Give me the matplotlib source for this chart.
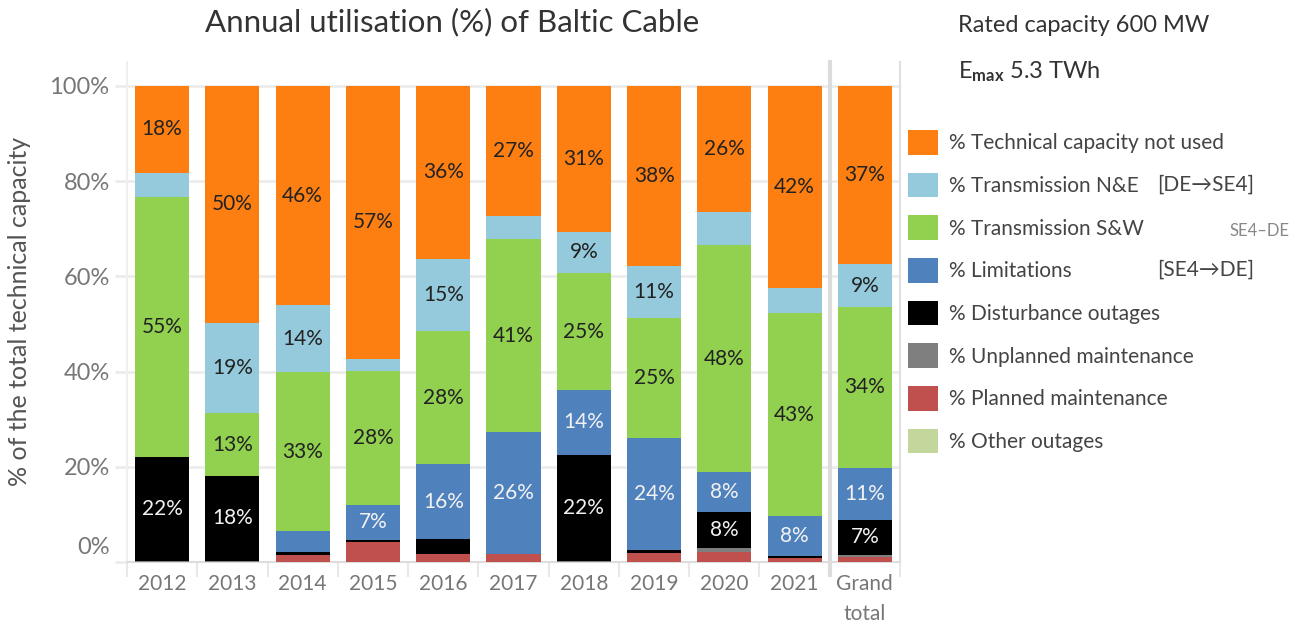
import numpy as np
import matplotlib.pyplot as plt
import matplotlib.transforms as mtransforms

plt.rcParams['font.family'] = ['Lato', 'DejaVu Sans']
plt.rcParams['mathtext.fontset'] = 'custom'
plt.rcParams['mathtext.rm'] = 'Lato'
plt.rcParams['mathtext.bf'] = 'Lato:bold'
plt.rcParams['mathtext.it'] = 'Lato:italic'

categories = ['2012', '2013', '2014', '2015', '2016', '2017', '2018', '2019', '2020', '2021', 'Grand\ntotal']

# shares of technical capacity (%), bottom of stack first
other_outages = [0, 0, 0, 0, 0, 0, 0, 0, 0, 0, 0]
planned_maint = [0, 0, 1.5, 4.2, 1.6, 1.6, 0, 1.9, 2.1, 0.8, 1.1]
unplanned_maint = [0.2, 0.2, 0, 0, 0, 0, 0.2, 0, 0.9, 0, 0.4]
disturbance = [21.9, 17.9, 0.6, 0.4, 3.3, 0, 22.3, 0.6, 7.6, 0.4, 7.4]
limitations = [0, 0, 4.4, 7.4, 15.6, 25.6, 13.6, 23.6, 8.3, 8.4, 10.9]
transmission_sw = [54.6, 13.1, 33.4, 28.2, 28.0, 40.6, 24.6, 25.2, 47.6, 42.7, 33.7]
transmission_ne = [5.0, 19.0, 14.0, 2.5, 15.1, 4.8, 8.6, 10.8, 7.1, 5.3, 9.1]
not_used = [18.3, 49.8, 46.1, 57.3, 36.4, 27.4, 30.6, 37.9, 26.4, 42.4, 37.4]

series = [
    ('% Other outages', other_outages, '#c3d69b', '#222222'),
    ('% Planned maintenance', planned_maint, '#c0504d', '#ffffff'),
    ('% Unplanned maintenance', unplanned_maint, '#7f7f7f', '#ffffff'),
    ('% Disturbance outages', disturbance, '#000000', '#f2f2f2'),
    ('% Limitations', limitations, '#4f81bd', '#f2f2f2'),
    ('% Transmission S&W', transmission_sw, '#92d050', '#222222'),
    ('% Transmission N&E', transmission_ne, '#94cadb', '#222222'),
    ('% Technical capacity not used', not_used, '#fd7f12', '#222222'),
]

fig = plt.figure(figsize=(13, 6.25), dpi=100)
ax = fig.add_axes([127 / 1300, 1 - 562 / 625, (900 - 127) / 1300, 500 / 625])

x = np.arange(len(categories))
bottom = np.zeros(len(categories))
handles = []
for name, vals, col, tcol in series:
    vals = np.array(vals, dtype=float)
    bars = ax.bar(x, vals, bottom=bottom, width=0.77, color=col, label=name, linewidth=0, zorder=3)
    labels = [f'{v:.0f}%' if v >= 7.2 else '' for v in vals]
    ax.bar_label(bars, labels=labels, label_type='center', color=tcol, fontsize=15, zorder=4)
    handles.append(bars)
    bottom += vals

ax.set_xlim(-0.5, 10.5)
ax.set_ylim(0, 105)

# axes look
ax.spines['top'].set_visible(False)
ax.spines['right'].set_color('#e0e0e0')
ax.spines['right'].set_linewidth(1.5)
ax.spines['left'].set_color('#f0f0f0')
ax.spines['left'].set_linewidth(1.5)
ax.spines['bottom'].set_color('#dddddd')
ax.spines['bottom'].set_linewidth(1.5)
ax.yaxis.grid(True, color='#ececec', lw=2, zorder=0)
ax.set_axisbelow(True)
ax.axvline(9.5, color='#dcdcdc', lw=3, zorder=1, ymin=-0.025, clip_on=False)

ax.set_xticks(x)
ax.set_xticklabels(categories, linespacing=1.6)
ax.set_xticks(np.arange(-0.5, 11, 1), minor=True)
ax.tick_params(axis='x', which='major', length=0, pad=9, labelsize=15, labelcolor='#777777')
ax.tick_params(axis='x', which='minor', length=11, color='#e8e8e8', width=1.5)

yt = [0, 20, 40, 60, 80, 100]
ax.set_yticks(yt)
ax.set_yticklabels([f'{v}%' for v in yt])
ax.tick_params(axis='y', length=9, color='#ececec', width=2, pad=3.5, labelsize=17, labelcolor='#777777')
# 0% label sits a bit above the baseline
lbl = ax.get_yticklabels()[0]
lbl.set_transform(lbl.get_transform() + mtransforms.ScaledTranslation(0, 12 / 72, fig.dpi_scale_trans))

fig.text(20 / 1300, 1 - 311 / 625, '% of the total technical capacity', rotation=90,
         ha='center', va='center', fontsize=18, color='#555555')
fig.text(452 / 1300, 1 - 22 / 625, 'Annual utilisation (%) of Baltic Cable',
         ha='center', va='center', fontsize=22.5, color='#333333')

fig.text(958 / 1300, 1 - 25 / 625, 'Rated capacity 600 MW', va='center', fontsize=17, color='#333333')
fig.text(958 / 1300, 1 - 72 / 625, r'E$_{\mathbf{max}}$ 5.3 TWh', va='center', fontsize=17, color='#333333')

fig.legend(handles[::-1], [s[0] for s in series][::-1], loc='upper left',
           bbox_to_anchor=(908 / 1300, 1 - 130 / 625), frameon=False, fontsize=15,
           handlelength=1.45, handleheight=1.45, handletextpad=0.5, labelspacing=0.86,
           borderpad=0, borderaxespad=0, labelcolor='#444444')

fig.text(1157 / 1300, 1 - 185 / 625, '[DE→SE4]', va='center', fontsize=15, color='#444444')
fig.text(1157 / 1300, 1 - 270 / 625, '[SE4→DE]', va='center', fontsize=15, color='#444444')
fig.text(1230 / 1300, 1 - 231 / 625, 'SE4–DE', va='center', fontsize=12, color='#888888')

fig.savefig('out.png', dpi=100)
